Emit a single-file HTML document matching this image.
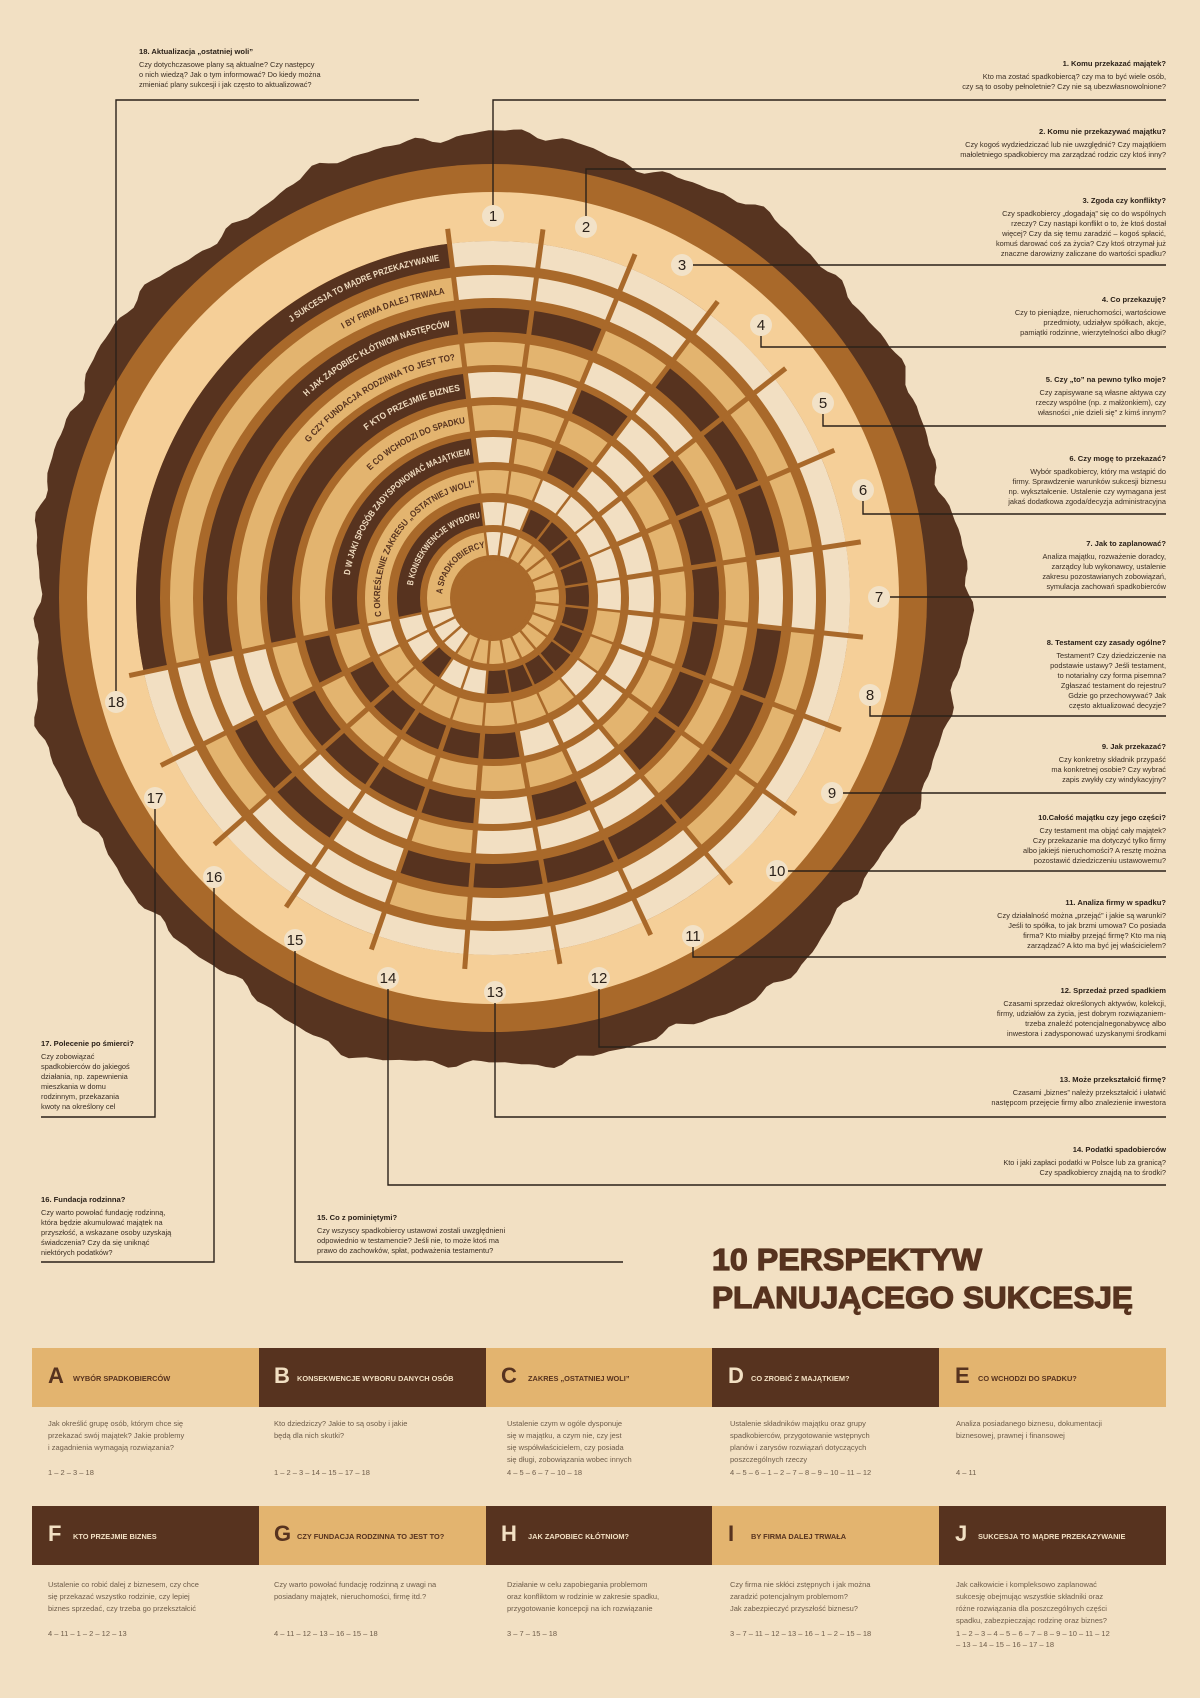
<!DOCTYPE html>
<html><head><meta charset="utf-8"><style>
html,body{margin:0;padding:0;background:#f2e0c3}
svg{display:block}
text{font-family:"Liberation Sans",sans-serif}
.t{font-size:7.6px;font-weight:bold;fill:#2b2119}
.b{font-size:7.4px;fill:#3a2d22}
.n{font-size:15px;fill:#2b2119;text-anchor:middle}
.cb{font-size:7.5px;fill:#6e5c49}
.lbl{font-size:9px;font-weight:bold}
</style></head><body>
<svg width="1200" height="1698" viewBox="0 0 1200 1698" xmlns="http://www.w3.org/2000/svg">
<rect width="1200" height="1698" fill="#f2e0c3"/>
<path id="bark" fill="#573420" d=""/>
<circle cx="493" cy="598" r="434" fill="#a9692a"/>
<circle cx="493" cy="598" r="406" fill="#f5cf98"/>
<circle cx="493" cy="598" r="357" fill="#a9692a"/>
<g id="cells"></g>
<g id="spokes"></g>
<circle cx="493" cy="598" r="38" fill="#a9692a"/>
<defs>
<path id="pA" d="M445.1,615.4 A51,51 0 0 1 485.0,547.6"/>
<path id="pB" d="M416.9,625.7 A81,81 0 0 1 480.3,518.0"/>
<path id="pC" d="M386.8,636.6 A113,113 0 0 1 475.3,486.4"/>
<path id="pD" d="M356.7,647.6 A145,145 0 0 1 470.3,454.8"/>
<path id="pE" d="M326.7,658.5 A177,177 0 0 1 465.3,423.2"/>
<path id="pF" d="M295.7,669.8 A210,210 0 0 1 460.2,390.6"/>
<path id="pG" d="M266.5,680.4 A241,241 0 0 1 455.3,360.0"/>
<path id="pH" d="M235.0,691.9 A274.5,274.5 0 0 1 450.1,326.9"/>
<path id="pI" d="M203.6,703.3 A308,308 0 0 1 444.8,293.8"/>
<path id="pJ" d="M172.1,714.8 A341.5,341.5 0 0 1 439.6,260.7"/>
</defs>
<g class="lbl">
<text fill="#57331f"><textPath href="#pA" startOffset="100%" text-anchor="end" textLength="68" lengthAdjust="spacingAndGlyphs">A SPADKOBIERCY</textPath></text>
<text fill="#f0dcc0"><textPath href="#pB" startOffset="100%" text-anchor="end" textLength="102" lengthAdjust="spacingAndGlyphs">B KONSEKWENCJE WYBORU</textPath></text>
<text fill="#57331f"><textPath href="#pC" startOffset="100%" text-anchor="end" textLength="178" lengthAdjust="spacingAndGlyphs">C OKREŚLENIE ZAKRESU „OSTATNIEJ WOLI”</textPath></text>
<text fill="#f0dcc0"><textPath href="#pD" startOffset="100%" text-anchor="end" textLength="182" lengthAdjust="spacingAndGlyphs">D W JAKI SPOSÓB ZADYSPONOWAĆ MAJĄTKIEM</textPath></text>
<text fill="#57331f"><textPath href="#pE" startOffset="100%" text-anchor="end" textLength="108" lengthAdjust="spacingAndGlyphs">E CO WCHODZI DO SPADKU</textPath></text>
<text fill="#f0dcc0"><textPath href="#pF" startOffset="100%" text-anchor="end" textLength="103" lengthAdjust="spacingAndGlyphs">F KTO PRZEJMIE BIZNES</textPath></text>
<text fill="#57331f"><textPath href="#pG" startOffset="100%" text-anchor="end" textLength="172" lengthAdjust="spacingAndGlyphs">G CZY FUNDACJA RODZINNA TO JEST TO?</textPath></text>
<text fill="#f0dcc0"><textPath href="#pH" startOffset="100%" text-anchor="end" textLength="162" lengthAdjust="spacingAndGlyphs">H JAK ZAPOBIEC KŁÓTNIOM NASTĘPCÓW</textPath></text>
<text fill="#57331f"><textPath href="#pI" startOffset="100%" text-anchor="end" textLength="108" lengthAdjust="spacingAndGlyphs">I BY FIRMA DALEJ TRWAŁA</textPath></text>
<text fill="#f0dcc0"><textPath href="#pJ" startOffset="100%" text-anchor="end" textLength="162" lengthAdjust="spacingAndGlyphs">J SUKCESJA TO MĄDRE PRZEKAZYWANIE</textPath></text>
</g>

<g fill="none" stroke="#2b2119" stroke-width="1.4">
<path d="M493 205 V100 H1166"/>
<path d="M586 216 V169 H1166"/>
<path d="M693 265 H1166"/>
<path d="M761 336 V347 H1166"/>
<path d="M823 414 V426 H1166"/>
<path d="M863 501 V514 H1166"/>
<path d="M890 597 H1166"/>
<path d="M870 706 V716 H1166"/>
<path d="M843 793 H1166"/>
<path d="M788 871 H1166"/>
<path d="M693 947 V957 H1166"/>
<path d="M599 989 V1047 H1166"/>
<path d="M495 1003 V1117 H1166"/>
<path d="M388 989 V1185 H1166"/>
<path d="M295 951 V1262 H623"/>
<path d="M214 888 V1262 H41"/>
<path d="M155 809 V1117 H41"/>
<path d="M116 691 V100 H419"/>
</g>
<g fill="#f2e2c8">
<circle cx="493" cy="216" r="11"/><circle cx="586" cy="227" r="11"/><circle cx="682" cy="265" r="11"/>
<circle cx="761" cy="325" r="11"/><circle cx="823" cy="403" r="11"/><circle cx="863" cy="490" r="11"/>
<circle cx="879" cy="597" r="11"/><circle cx="870" cy="695" r="11"/><circle cx="832" cy="793" r="11"/>
<circle cx="777" cy="871" r="11"/><circle cx="693" cy="936" r="11"/><circle cx="599" cy="978" r="11"/>
<circle cx="495" cy="992" r="11"/><circle cx="388" cy="978" r="11"/><circle cx="295" cy="940" r="11"/>
<circle cx="214" cy="877" r="11"/><circle cx="155" cy="798" r="11"/><circle cx="116" cy="702" r="11"/>
</g>
<g class="n">
<text x="493" y="221">1</text><text x="586" y="232">2</text><text x="682" y="270">3</text>
<text x="761" y="330">4</text><text x="823" y="408">5</text><text x="863" y="495">6</text>
<text x="879" y="602">7</text><text x="870" y="700">8</text><text x="832" y="798">9</text>
<text x="777" y="876">10</text><text x="693" y="941">11</text><text x="599" y="983">12</text>
<text x="495" y="997">13</text><text x="388" y="983">14</text><text x="295" y="945">15</text>
<text x="214" y="882">16</text><text x="155" y="803">17</text><text x="116" y="707">18</text>
</g>

<g text-anchor="end">
<text class="t" x="1166" y="66">1. Komu przekazać majątek?</text>
<text class="b" x="1166" y="79">Kto ma zostać spadkobiercą? czy ma to być wiele osób,</text>
<text class="b" x="1166" y="89">czy są to osoby pełnoletnie? Czy nie są ubezwłasnowolnione?</text>

<text class="t" x="1166" y="134">2. Komu nie przekazywać majątku?</text>
<text class="b" x="1166" y="147">Czy kogoś wydziedziczać lub nie uwzględnić? Czy majątkiem</text>
<text class="b" x="1166" y="157">małoletniego spadkobiercy ma zarządzać rodzic czy ktoś inny?</text>

<text class="t" x="1166" y="203">3. Zgoda czy konflikty?</text>
<text class="b" x="1166" y="216">Czy spadkobiercy „dogadają” się co do wspólnych</text>
<text class="b" x="1166" y="226">rzeczy? Czy nastąpi konflikt o to, że ktoś dostał</text>
<text class="b" x="1166" y="236">więcej? Czy da się temu zaradzić – kogoś spłacić,</text>
<text class="b" x="1166" y="246">komuś darować coś za życia? Czy ktoś otrzymał już</text>
<text class="b" x="1166" y="256">znaczne darowizny zaliczane do wartości spadku?</text>

<text class="t" x="1166" y="302">4. Co przekazuję?</text>
<text class="b" x="1166" y="315">Czy to pieniądze, nieruchomości, wartościowe</text>
<text class="b" x="1166" y="325">przedmioty, udziaływ spółkach, akcje,</text>
<text class="b" x="1166" y="335">pamiątki rodzinne, wierzytelności albo długi?</text>

<text class="t" x="1166" y="382">5. Czy „to” na pewno tylko moje?</text>
<text class="b" x="1166" y="395">Czy zapisywane są własne aktywa czy</text>
<text class="b" x="1166" y="405">rzeczy wspólne (np. z małżonkiem), czy</text>
<text class="b" x="1166" y="415">własności „nie dzieli się” z kimś innym?</text>

<text class="t" x="1166" y="461">6. Czy mogę to przekazać?</text>
<text class="b" x="1166" y="474">Wybór spadkobiercy, który ma wstąpić do</text>
<text class="b" x="1166" y="484">firmy. Sprawdzenie warunków sukcesji biznesu</text>
<text class="b" x="1166" y="494">np. wykształcenie. Ustalenie czy wymagana jest</text>
<text class="b" x="1166" y="504">jakaś dodatkowa zgoda/decyzja administracyjna</text>

<text class="t" x="1166" y="546">7. Jak to zaplanować?</text>
<text class="b" x="1166" y="559">Analiza majątku, rozważenie doradcy,</text>
<text class="b" x="1166" y="569">zarządcy lub wykonawcy, ustalenie</text>
<text class="b" x="1166" y="579">zakresu pozostawianych zobowiązań,</text>
<text class="b" x="1166" y="589">symulacja zachowań spadkobierców</text>

<text class="t" x="1166" y="645">8. Testament czy zasady ogólne?</text>
<text class="b" x="1166" y="658">Testament? Czy dziedziczenie na</text>
<text class="b" x="1166" y="668">podstawie ustawy? Jeśli testament,</text>
<text class="b" x="1166" y="678">to notarialny czy forma pisemna?</text>
<text class="b" x="1166" y="688">Zgłaszać testament do rejestru?</text>
<text class="b" x="1166" y="698">Gdzie go przechowywać? Jak</text>
<text class="b" x="1166" y="708">często aktualizować decyzje?</text>

<text class="t" x="1166" y="749">9. Jak przekazać?</text>
<text class="b" x="1166" y="762">Czy konkretny składnik przypaść</text>
<text class="b" x="1166" y="772">ma konkretnej osobie? Czy wybrać</text>
<text class="b" x="1166" y="782">zapis zwykły czy windykacyjny?</text>

<text class="t" x="1166" y="820">10.Całość majątku czy jego części?</text>
<text class="b" x="1166" y="833">Czy testament ma objąć cały majątek?</text>
<text class="b" x="1166" y="843">Czy przekazanie ma dotyczyć tylko firmy</text>
<text class="b" x="1166" y="853">albo jakiejś nieruchomości? A resztę można</text>
<text class="b" x="1166" y="863">pozostawić dziedziczeniu ustawowemu?</text>

<text class="t" x="1166" y="905">11. Analiza firmy w spadku?</text>
<text class="b" x="1166" y="918">Czy działalność można „przejąć” i jakie są warunki?</text>
<text class="b" x="1166" y="928">Jeśli to spółka, to jak brzmi umowa? Co posiada</text>
<text class="b" x="1166" y="938">firma? Kto miałby przejąć firmę? Kto ma nią</text>
<text class="b" x="1166" y="948">zarządzać? A kto ma być jej właścicielem?</text>

<text class="t" x="1166" y="993">12. Sprzedaż przed spadkiem</text>
<text class="b" x="1166" y="1006">Czasami sprzedaż określonych aktywów, kolekcji,</text>
<text class="b" x="1166" y="1016">firmy, udziałów za życia, jest dobrym rozwiązaniem-</text>
<text class="b" x="1166" y="1026">trzeba znaleźć potencjalnegonabywcę albo</text>
<text class="b" x="1166" y="1036">inwestora i zadysponować uzyskanymi środkami</text>

<text class="t" x="1166" y="1082">13. Może przekształcić firmę?</text>
<text class="b" x="1166" y="1095">Czasami „biznes” należy przekształcić i ułatwić</text>
<text class="b" x="1166" y="1105">następcom przejęcie firmy albo znalezienie inwestora</text>

<text class="t" x="1166" y="1152">14. Podatki spadobierców</text>
<text class="b" x="1166" y="1165">Kto i jaki zapłaci podatki w Polsce lub za granicą?</text>
<text class="b" x="1166" y="1175">Czy spadkobiercy znajdą na to środki?</text>
</g>

<text class="t" x="139" y="54">18. Aktualizacja „ostatniej woli”</text>
<text class="b" x="139" y="67">Czy dotychczasowe plany są aktualne? Czy następcy</text>
<text class="b" x="139" y="77">o nich wiedzą? Jak o tym informować? Do kiedy można</text>
<text class="b" x="139" y="87">zmieniać plany sukcesji i jak często to aktualizować?</text>

<text class="t" x="41" y="1046">17. Polecenie po śmierci?</text>
<text class="b" x="41" y="1059">Czy zobowiązać</text>
<text class="b" x="41" y="1069">spadkobierców do jakiegoś</text>
<text class="b" x="41" y="1079">działania, np. zapewnienia</text>
<text class="b" x="41" y="1089">mieszkania w domu</text>
<text class="b" x="41" y="1099">rodzinnym, przekazania</text>
<text class="b" x="41" y="1109">kwoty na określony cel</text>

<text class="t" x="41" y="1202">16. Fundacja rodzinna?</text>
<text class="b" x="41" y="1215">Czy warto powołać fundację rodzinną,</text>
<text class="b" x="41" y="1225">która będzie akumulować majątek na</text>
<text class="b" x="41" y="1235">przyszłość, a wskazane osoby uzyskają</text>
<text class="b" x="41" y="1245">świadczenia? Czy da się uniknąć</text>
<text class="b" x="41" y="1255">niektórych podatków?</text>

<text class="t" x="317" y="1220">15. Co z pominiętymi?</text>
<text class="b" x="317" y="1233">Czy wszyscy spadkobiercy ustawowi zostali uwzględnieni</text>
<text class="b" x="317" y="1243">odpowiednio w testamencie? Jeśli nie, to może ktoś ma</text>
<text class="b" x="317" y="1253">prawo do zachowków, spłat, podważenia testamentu?</text>

<text x="712" y="1270" font-size="31" font-weight="bold" fill="#57331f" stroke="#57331f" stroke-width="1.2" textLength="270" lengthAdjust="spacingAndGlyphs">10 PERSPEKTYW</text>
<text x="712" y="1308" font-size="31" font-weight="bold" fill="#57331f" stroke="#57331f" stroke-width="1.2" textLength="421" lengthAdjust="spacingAndGlyphs">PLANUJĄCEGO SUKCESJĘ</text>

<rect x="32" y="1348" width="227" height="59" fill="#e3b46f"/>
<rect x="259" y="1348" width="227" height="59" fill="#57331f"/>
<rect x="486" y="1348" width="227" height="59" fill="#e3b46f"/>
<rect x="712" y="1348" width="227" height="59" fill="#57331f"/>
<rect x="939" y="1348" width="227" height="59" fill="#e3b46f"/>
<rect x="32" y="1506" width="227" height="59" fill="#57331f"/>
<rect x="259" y="1506" width="227" height="59" fill="#e3b46f"/>
<rect x="486" y="1506" width="227" height="59" fill="#57331f"/>
<rect x="712" y="1506" width="227" height="59" fill="#e3b46f"/>
<rect x="939" y="1506" width="227" height="59" fill="#57331f"/>
<g font-size="22" font-weight="bold">
<text x="48" y="1383" fill="#57331f">A</text>
<text x="274" y="1383" fill="#f2e0c3">B</text>
<text x="501" y="1383" fill="#57331f">C</text>
<text x="728" y="1383" fill="#f2e0c3">D</text>
<text x="955" y="1383" fill="#57331f">E</text>
<text x="48" y="1541" fill="#f2e0c3">F</text>
<text x="274" y="1541" fill="#57331f">G</text>
<text x="501" y="1541" fill="#f2e0c3">H</text>
<text x="728" y="1541" fill="#57331f">I</text>
<text x="955" y="1541" fill="#f2e0c3">J</text>
</g>
<g font-size="7.4" font-weight="bold">
<text x="73" y="1381" fill="#57331f">WYBÓR SPADKOBIERCÓW</text>
<text x="297" y="1381" fill="#f2e0c3">KONSEKWENCJE WYBORU DANYCH OSÓB</text>
<text x="528" y="1381" fill="#57331f">ZAKRES „OSTATNIEJ WOLI”</text>
<text x="751" y="1381" fill="#f2e0c3">CO ZROBIĆ Z MAJĄTKIEM?</text>
<text x="978" y="1381" fill="#57331f">CO WCHODZI DO SPADKU?</text>
<text x="73" y="1539" fill="#f2e0c3">KTO PRZEJMIE BIZNES</text>
<text x="297" y="1539" fill="#57331f">CZY FUNDACJA RODZINNA TO JEST TO?</text>
<text x="528" y="1539" fill="#f2e0c3">JAK ZAPOBIEC KŁÓTNIOM?</text>
<text x="751" y="1539" fill="#57331f">BY FIRMA DALEJ TRWAŁA</text>
<text x="978" y="1539" fill="#f2e0c3">SUKCESJA TO MĄDRE PRZEKAZYWANIE</text>
</g>
<g class="cb">
<text x="48" y="1426">Jak określić grupę osób, którym chce się</text>
<text x="48" y="1438">przekazać swój majątek? Jakie problemy</text>
<text x="48" y="1450">i zagadnienia wymagają rozwiązania?</text>
<text x="48" y="1475">1 – 2 – 3 – 18</text>

<text x="274" y="1426">Kto dziedziczy? Jakie to są osoby i jakie</text>
<text x="274" y="1438">będą dla nich skutki?</text>
<text x="274" y="1475">1 – 2 – 3 – 14 – 15 – 17 – 18</text>

<text x="507" y="1426">Ustalenie czym w ogóle dysponuje</text>
<text x="507" y="1438">się w majątku, a czym nie, czy jest</text>
<text x="507" y="1450">się współwłaścicielem, czy posiada</text>
<text x="507" y="1462">się długi, zobowiązania wobec innych</text>
<text x="507" y="1475">4 – 5 – 6 – 7 – 10 – 18</text>

<text x="730" y="1426">Ustalenie składników majątku oraz grupy</text>
<text x="730" y="1438">spadkobierców, przygotowanie wstępnych</text>
<text x="730" y="1450">planów i zarysów rozwiązań dotyczących</text>
<text x="730" y="1462">poszczególnych rzeczy</text>
<text x="730" y="1475">4 – 5 – 6 – 1 – 2 – 7 – 8 – 9 – 10 – 11 – 12</text>

<text x="956" y="1426">Analiza posiadanego biznesu, dokumentacji</text>
<text x="956" y="1438">biznesowej, prawnej i finansowej</text>
<text x="956" y="1475">4 – 11</text>

<text x="48" y="1587">Ustalenie co robić dalej z biznesem, czy chce</text>
<text x="48" y="1599">się przekazać wszystko rodzinie, czy lepiej</text>
<text x="48" y="1611">biznes sprzedać, czy trzeba go przekształcić</text>
<text x="48" y="1636">4 – 11 – 1 – 2 – 12 – 13</text>

<text x="274" y="1587">Czy warto powołać fundację rodzinną z uwagi na</text>
<text x="274" y="1599">posiadany majątek, nieruchomości, firmę itd.?</text>
<text x="274" y="1636">4 – 11 – 12 – 13 – 16 – 15 – 18</text>

<text x="507" y="1587">Działanie w celu zapobiegania problemom</text>
<text x="507" y="1599">oraz konfliktom w rodzinie w zakresie spadku,</text>
<text x="507" y="1611">przygotowanie koncepcji na ich rozwiązanie</text>
<text x="507" y="1636">3 – 7 – 15 – 18</text>

<text x="730" y="1587">Czy firma nie skłóci zstępnych i jak można</text>
<text x="730" y="1599">zaradzić potencjalnym problemom?</text>
<text x="730" y="1611">Jak zabezpieczyć przyszłość biznesu?</text>
<text x="730" y="1636">3 – 7 – 11 – 12 – 13 – 16 – 1 – 2 – 15 – 18</text>

<text x="956" y="1587">Jak całkowicie i kompleksowo zaplanować</text>
<text x="956" y="1599">sukcesję obejmując wszystkie składniki oraz</text>
<text x="956" y="1611">różne rozwiązania dla poszczególnych części</text>
<text x="956" y="1623">spadku, zabezpieczając rodzinę oraz biznes?</text>
<text x="956" y="1636">1 – 2 – 3 – 4 – 5 – 6 – 7 – 8 – 9 – 10 – 11 – 12</text>
<text x="956" y="1647">– 13 – 14 – 15 – 16 – 17 – 18</text>
</g>
</svg>
<script>
(function(){
var NS="http://www.w3.org/2000/svg",cx=493,cy=598;
function P(r,a){a=a*Math.PI/180;return (cx+r*Math.cos(a)).toFixed(2)+","+(cy+r*Math.sin(a)).toFixed(2);}
function sector(r0,r1,a0,a1){var l=(a1-a0)>180?1:0;
return "M"+P(r1,a0)+" A"+r1+","+r1+" 0 "+l+" 1 "+P(r1,a1)+" L"+P(r0,a1)+" A"+r0+","+r0+" 0 "+l+" 0 "+P(r0,a0)+"Z";}
function el(tag,attrs,parent){var e=document.createElementNS(NS,tag);for(var k in attrs)e.setAttribute(k,attrs[k]);parent.appendChild(e);return e;}
var pts=[],N=360;
for(var i=0;i<N;i++){var a=i/N*2*Math.PI;
var r=466+5*Math.sin(a*7+1)+4*Math.sin(a*13+2)+2.5*Math.sin(a*31)+1.8*Math.sin(a*57+.5)+1.2*Math.sin(a*83+1.3);
pts.push((497+r*Math.cos(a)).toFixed(1)+","+(602+r*Math.sin(a)).toFixed(1));}
document.getElementById("bark").setAttribute("d","M"+pts.join(" L")+"Z");
var col={P:"#f2dfc2",O:"#e3b46f",D:"#57331f"};
var rin=[43,73,105,136,168,201,233,266,300,333],rout=[66,96,128,161,193,226,256,290,323,357];
var lab="ODODODODOD";
var tab=["PPOOOOOOOOOOOOOPPP","PPDDDDDDDDDDDPPDPP","OOPPPPPOOPOOOOOOOP","PODPPPPPPPPPDDDDDO","OOOPOOOOOOPOOOOOOD",
"PPDPDDDDDDPDPDDDDO","OOPPOOOOOOPPPOPPOP","DDODDDPDDDDDDDPDDP","PPPOOOPOOOPPPOPPOP","PPPPPPPPPPPPPPPPPP"];
var g=document.getElementById("cells"),st=14.72,a00=-97;
for(var k=0;k<10;k++){
el("path",{d:sector(rin[k],rout[k],168,263),fill:col[lab[k]]},g);
for(var i=0;i<18;i++){var a0=a00+i*st;el("path",{d:sector(rin[k],rout[k],a0,a0+st),fill:col[tab[k][i]]},g);}}
var s=document.getElementById("spokes");
for(var i=0;i<=18;i++){var a=a00+i*st;
el("path",{d:"M"+P(38,a)+" L"+P(135,a),stroke:"#a9692a","stroke-width":"2.5"},s);
el("path",{d:"M"+P(130,a)+" L"+P(372,a),stroke:"#a9692a","stroke-width":"5"},s);}
})();
</script>
</body></html>
